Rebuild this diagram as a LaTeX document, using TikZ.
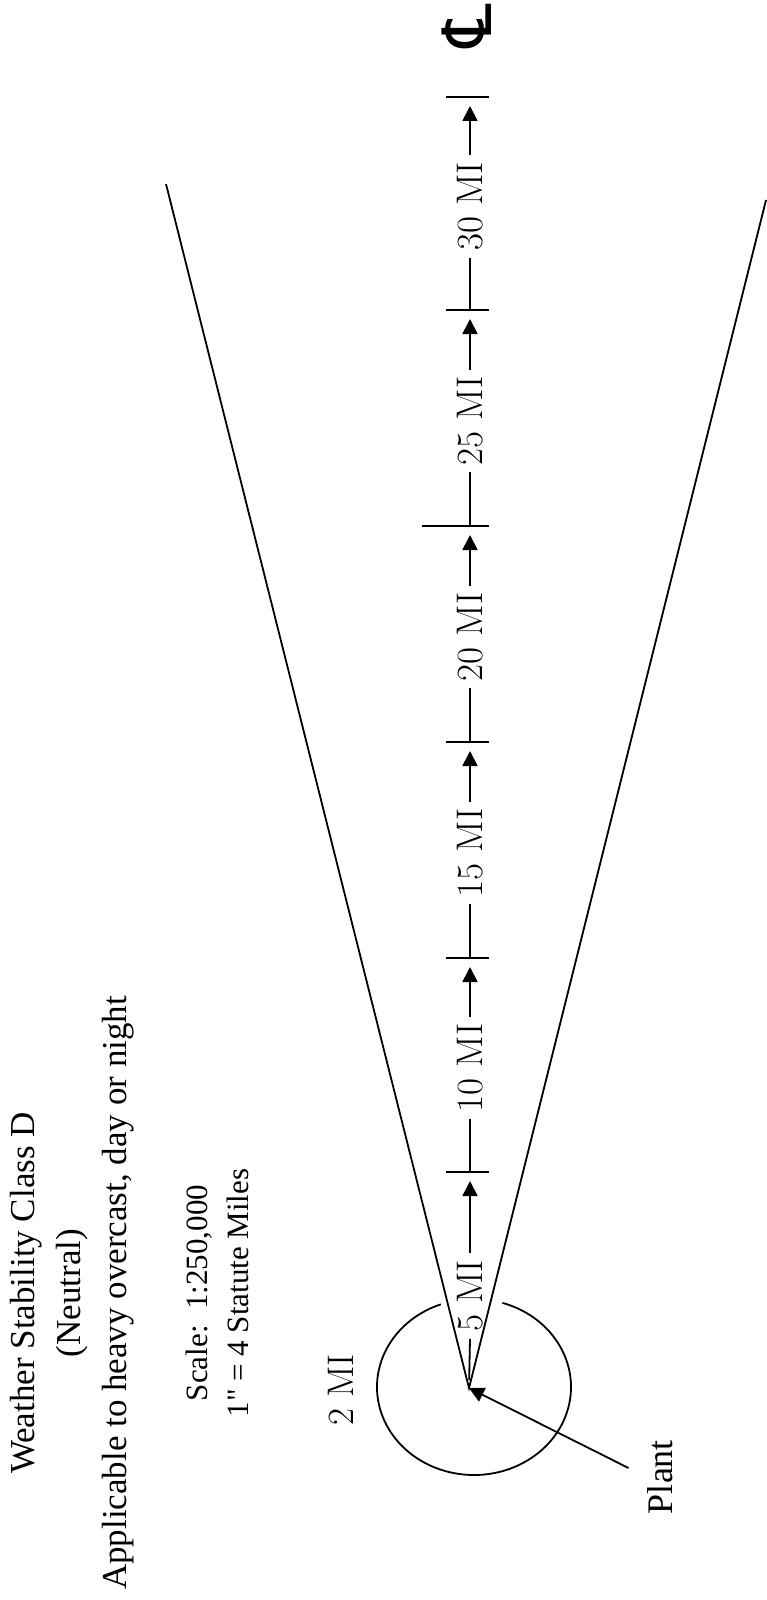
\documentclass[tikz,border=0pt]{standalone}
\usepackage{fontspec}
\newfontfamily\timesfont{Liberation Serif}
\newfontfamily\symfont{DejaVu Sans}
\usetikzlibrary{arrows.meta,calc}

\begin{document}
\begin{tikzpicture}[x=0.5pt,y=-0.5pt,line width=0.9pt,
  mi/.style={rotate=90,inner sep=3pt,
             font=\fontsize{18.5}{20}\selectfont},
  heading/.style={rotate=90,inner sep=0pt,
             font=\timesfont\fontsize{17.5}{19}\selectfont},
  scaletxt/.style={rotate=90,inner sep=0pt,
             font=\timesfont\fontsize{15.5}{17}\selectfont},
  tip/.style={-{Triangle[length=7.5pt,width=7.5pt]}}]
  \useasboundingbox (0,0) rectangle (766,1600);
  \coordinate (plant) at (469,1388);
  \coordinate (cen) at (474,1387);
  \coordinate (wl) at (166,184);
  \coordinate (wr) at (766,200);
  \draw (wl) -- (plant) -- (wr);
  \draw ([shift={(287:97 and 88)}]cen)
        arc[start angle=287,end angle=610,x radius=97,y radius=88];
  \foreach \y/\l [count=\i from 0] in
      {1172/446,958/446,742/446,526/422,310/446,97/446} {
    \coordinate (b\i) at (470,\y);
    \draw (\l,\y) -- (489,\y);
  }
  \node[mi] (m5) at (470,1296) {5 MI};
  \draw[shorten <=4pt] (plant) -- (m5.west);
  \draw[tip,shorten >=4.5pt] (m5.east) -- (b0);
  \foreach \dist/\a/\b in {10/0/1,15/1/2,20/2/3,25/3/4,30/4/5} {
    \node[mi] (m\dist) at ($(b\a)!0.5!(b\b)+(0,3)$) {\dist\ MI};
    \draw (b\a) -- (m\dist.west);
    \draw[tip,shorten >=4.5pt] (m\dist.east) -- (b\b);
  }
  \node[rotate=90,font=\symfont\fontsize{34}{36}\selectfont]
        (cl) at (467,26) {℄};
  \node[mi] (r2) at (341,1390) {2 MI};
  \node[rotate=90,inner sep=0pt,font=\timesfont\fontsize{18}{20}\selectfont]
        (plbl) at (660,1477) {Plant};
  \draw[tip,shorten <=10pt] (plbl.north) -- (plant);
  \node[heading] (t1) at (26,1293) {Weather Stability Class D};
  \node[heading] (t2) at (72,1293) {(Neutral)};
  \node[heading] (t3) at (118,1293)
        {Applicable to heavy overcast, day or night};
  \node[scaletxt] (s1) at (199,1293) {Scale:~~1:250,000};
  \node[scaletxt] (s2) at (238,1293) {1" = 4 Statute Miles};
\end{tikzpicture}
\end{document}
